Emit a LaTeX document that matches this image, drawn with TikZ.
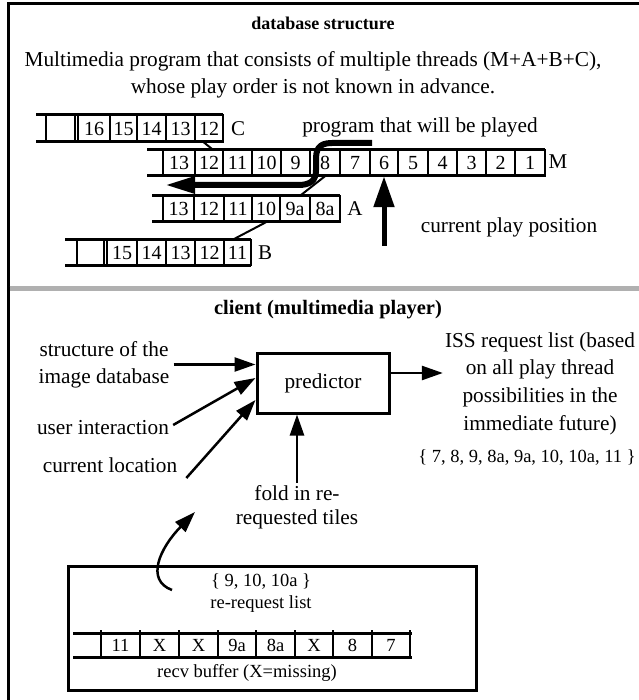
\documentclass[tikz,border=0pt]{standalone}
\usepackage{fontspec}
\setmainfont{Liberation Serif}
\usetikzlibrary{arrows.meta,calc}
\newcommand*\setfs[2]{\fontsize{#1pt}{#2pt}\selectfont}
\definecolor{sepgray}{RGB}{176,176,176}
\tikzset{
  hline/.style={line width=3pt},
  vline/.style={line width=2.4pt, line cap=rect},
  cell/.style={inner sep=0pt, minimum height=26pt, font=\setfs{20}{24}},
  bcell/.style={inner sep=0pt, minimum height=24pt, font=\setfs{18.5}{22}},
  lbl/.style={inner sep=0pt, font=\setfs{21}{27}},
  txt/.style={align=center, inner sep=2pt, font=\setfs{21.3}{27}},
  link/.style={line width=2pt},
  arr/.style={line width=2.5pt, -{Triangle[length=21pt,width=14pt]}},
  bigarr/.style={line width=5pt, -{Triangle[length=31pt,width=20pt]}},
}
\begin{document}
\begin{tikzpicture}[x=1pt,y=-1pt]
\useasboundingbox (0,0) rectangle (638,700);
% frame
\draw[line width=3pt] (8,701) -- (8,4) -- (639,4);
\draw[sepgray, line width=5pt] (9.5,288) -- (639,288);

\node[font=\bfseries\setfs{18}{21}] (t1) at (323,23) {database structure};
\node[txt] (t2) at (313,74.5) {Multimedia program that consists of multiple threads (M+A+B+C),\\whose play order is not known in advance.};

% row C
\draw[hline] (36,115) -- (223,115) (36,142) -- (223,142);
\draw[vline] (46,115) -- (46,142) (75,115) -- (75,142);
\foreach \a/\b/\lab in {78/110/16,110/137/15,137/166/14,166/195/13,195/223/12}{
  \draw[vline] (\a,115) -- (\a,142);
  \node[cell, minimum width={\b-\a}] (C\lab) at ({(\a+\b)/2},128.5) {\lab};
}
\draw[vline] (223,115) -- (223,142);
\node[lbl] (Cl) at (238,128.5) {C};

% row M
\draw[hline] (147,150) -- (545,150) (147,176) -- (545,176);
\foreach \a/\b/\lab in {163/195/13,195/223/12,223/252/11,252/281/10,281/310/9,310/340/8,340/370/7,370/398/6,398/428/5,428/457/4,457/486/3,486/515/2,515/545/1}{
  \draw[vline] (\a,150) -- (\a,176);
  \node[cell, minimum width={\b-\a}] (M\lab) at ({(\a+\b)/2},163) {\lab};
}
\draw[vline] (545,150) -- (545,176);
\node[lbl] (Ml) at (558,162) {M};

% row A
\draw[hline] (152,196) -- (340,196) (152,222) -- (340,222);
\foreach \a/\b/\lab in {163/194/13,194/224/12,224/252/11,252/280/10,280/310/9a,310/340/8a}{
  \draw[vline] (\a,196) -- (\a,222);
  \node[cell, minimum width={\b-\a}] (A\lab) at ({(\a+\b)/2},209) {\lab};
}
\draw[vline] (340,196) -- (340,222);
\node[lbl] (Al) at (355,209) {A};

% row B
\draw[hline] (65,240) -- (251,240) (65,265) -- (251,265);
\draw[vline] (77,240) -- (77,265) (104,240) -- (104,265);
\foreach \a/\b/\lab in {107/137/15,137/166/14,166/195/13,195/224/12,224/251/11}{
  \draw[vline] (\a,240) -- (\a,265);
  \node[cell, minimum width={\b-\a}] (B\lab) at ({(\a+\b)/2},252.5) {\lab};
}
\draw[vline] (251,240) -- (251,265);
\node[lbl] (Bl) at (265,253) {B};

% links between threads
\draw[link] ($(C12.south)+(-6,0)$) -- ($(M12.north)+(4,0)$);
\draw[link] (M8.south) -- ($(A9a.north)+(5,0)$);
\draw[link] (A10.south) -- ($(B11.north)+(-4,0)$);

% program arrow
\node[txt] (prog) at (420,127) {program that will be played};
\coordinate (pgS) at (372,143);
\coordinate (pgE) at (165,185);
\draw[line width=6pt, -{Triangle[length=30pt,width=16pt]}] (pgS) -- (332,143) .. controls (318,143) and (316,150) .. (316,160) -- (316,170) .. controls (316,181) and (310,185) .. (298,185) -- (pgE);

% current play position
\coordinate (cpS) at (384,246);
\draw[bigarr] (cpS) -- (M6.south);
\node[txt] (cpp) at (509,227) {current play position};

% client section
\node[font=\bfseries\setfs{20.5}{24}] (t3) at (328,310) {client (multimedia player)};
\node[draw, line width=3pt, minimum width=132pt, minimum height=60pt, inner sep=0pt, font=\setfs{21.3}{27}] (pred) at (323,383) {predictor};
\node[txt, font=\setfs{21.3}{27.7}] (iss) at (540,383.5) {ISS request list (based\\on all play thread\\possibilities in the\\immediate future)};
\node[font=\setfs{18.5}{22}] (isl) at (527,458) {\{ 7, 8, 9, 8a, 9a, 10, 10a, 11 \}};
\draw[arr] ($(pred.east)+(0,-10)$) -- ($(iss.west)+(0,-10.5)$);

\node[txt] (s1) at (104,364.5) {structure of the\\image database};
\node[txt] (ui) at (103,428) {user interaction};
\node[txt] (cl) at (110,465) {current location};
\draw[arr] ($(s1.east)+(2,0)$) -- (pred.west |- s1.east);
\draw[arr] ($(ui.east)+(2,-3)$) -- ($(pred.west)+(0,-5)$);
\draw[arr] ($(cl.east)+(7,13)$) -- ($(pred.west)+(0,17)$);

\node[txt, font=\setfs{21.3}{24}] (fold) at (297,507) {fold in re-\\requested tiles};
\draw[arr] (fold.north) -- (pred.south -| fold.north);

% re-request box
\node[draw, line width=3pt, minimum width=408pt, minimum height=124pt, inner sep=0pt] (rbox) at (272,628) {};
\node[align=center, font=\setfs{18.5}{22}] (rrl) at (261,593) {\{ 9, 10, 10a \}\\re-request list};
\draw[hline] (73,633) -- (412,633) (73,657) -- (412,657);
\foreach \a/\b/\lab [count=\i] in {101/140/11,140/179/X,179/218/X,218/256/9a,256/295/8a,295/333/X,333/372/8,372/410/7}{
  \draw[line width=1.8pt] (\a,630) -- (\a,657);
  \node[bcell, minimum width={\b-\a}] (rb\i) at ({(\a+\b)/2},645) {\lab};
}
\draw[line width=1.8pt] (410,630) -- (410,657);
\node[font=\setfs{18.5}{21}] (rbl) at (247,673) {recv buffer (X=missing)};

\coordinate (rqS) at (172,590);
\coordinate (rqE) at (195,512);
\draw[arr] (rqS) .. controls (145,580) and (160,548) .. (rqE);
\end{tikzpicture}
\end{document}
